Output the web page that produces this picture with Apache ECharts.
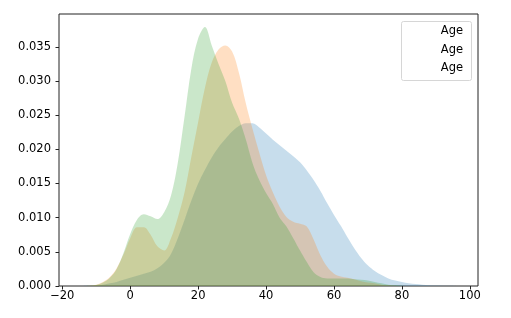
<!DOCTYPE html>
<html>
<head>
<meta charset="utf-8">
<script src="https://cdn.jsdelivr.net/npm/echarts@6/dist/echarts.min.js"></script>
<style>html,body{margin:0;padding:0;background:#fff;}#c{width:511px;height:318px;}</style>
</head>
<body>
<div id="c"></div>
<script>
// Age grid (x positions of KDE samples)
const ageGrid = [-14,-12,-10,-8,-6,-4,-2,0,2,4,6,8,10,12,14,16,18,20,22,24,26,28,30,32,34,36,38,40,42,44,46,48,50,52,54,56,58,60,62,64,66,68,70,72,74,76,78,80,82,84,86,88,90,92,94,96,98,100];
// Density series (blue, orange, green)
const densBlue = [0,0.00002,0.00008,0.0002,0.0004,0.0006,0.0009,0.0012,0.0015,0.0018,0.0021,0.0026,0.0034,0.0047,0.0070,0.0097,0.0125,0.0150,0.0170,0.0188,0.0203,0.0215,0.0226,0.0234,0.0238,0.0238,0.0232,0.0223,0.0214,0.0206,0.0198,0.0190,0.0181,0.0169,0.0155,0.0139,0.0121,0.0104,0.0088,0.0071,0.0055,0.0041,0.0030,0.0022,0.0016,0.0011,0.0008,0.0006,0.0004,0.0003,0.0002,0.00012,0.00007,0.00004,0.00002,0.00001,0,0];
const densOrange = [0,0.00005,0.0002,0.0006,0.0013,0.0026,0.0046,0.0070,0.0086,0.0086,0.0075,0.0058,0.0052,0.0070,0.0100,0.0137,0.0189,0.0240,0.0290,0.0327,0.0346,0.0352,0.0343,0.0312,0.0268,0.0230,0.0195,0.0162,0.0137,0.0116,0.0101,0.0094,0.0091,0.0087,0.0068,0.0045,0.0028,0.0018,0.0014,0.0012,0.0010,0.0007,0.0005,0.0004,0.0002,0.0001,0.00004,0,0,0,0,0,0,0,0,0,0,0];
const densGreen = [0,0.00003,0.00015,0.0005,0.0012,0.0025,0.0048,0.0076,0.0097,0.0105,0.0102,0.0098,0.0108,0.0132,0.0180,0.0248,0.0318,0.0362,0.0379,0.0352,0.0325,0.0300,0.0268,0.0245,0.0215,0.0180,0.0155,0.0136,0.0120,0.0100,0.0087,0.0070,0.0052,0.0035,0.0020,0.0013,0.0011,0.0011,0.0011,0.0011,0.0010,0.0009,0.0008,0.0006,0.0004,0.0002,0.0001,0.00004,0,0,0,0,0,0,0,0,0,0];
const seriesNames = ['Age','Age','Age'];
const seriesColors = ['#1f77b4','#ff7f0e','#2ca02c'];
const xTicks = [-20,0,20,40,60,80,100];
const yTicks = [0,0.005,0.010,0.015,0.020,0.025,0.030,0.035];

const allDens = [densBlue, densOrange, densGreen];
const chart = echarts.init(document.getElementById('c'), null, {renderer:'canvas'});
const font = 'DejaVu Sans';
const fs = 11.5;
const series = allDens.map((d, i) => ({
  type: 'line',
  name: seriesNames[i] + i,
  data: ageGrid.map((x, k) => [x, d[k]]),
  smooth: 0.35,
  showSymbol: false,
  lineStyle: { width: 0, opacity: 0 },
  areaStyle: { color: seriesColors[i], opacity: 0.25 },
  silent: true,
  animation: false
}));

const legendItems = seriesNames.map((n, i) => ({
  type: 'text', right: 48, top: 25 + i * 18.7,
  style: { text: n, font: fs + 'px "DejaVu Sans"', fill: '#000', textAlign: 'right' }
}));

chart.setOption({
  animation: false,
  grid: { left: 59, top: 14, right: 33, bottom: 32, show: true, borderColor: '#222', borderWidth: 1, backgroundColor: 'transparent' },
  xAxis: {
    type: 'value', min: -20.97, max: 102.4,
    axisLine: { show: false, onZero: false },
    splitLine: { show: false },
    axisTick: { show: true, length: 3.5, lineStyle: { color: '#222' }, customValues: xTicks },
    axisLabel: { customValues: xTicks, color: '#000', fontFamily: font, fontSize: fs, margin: 4,
      formatter: v => (v < 0 ? '\u2212' + Math.abs(v) : String(v)) }
  },
  yAxis: {
    type: 'value', min: 0, max: 0.0398,
    axisLine: { show: false, onZero: false },
    splitLine: { show: false },
    axisTick: { show: true, length: 3.5, lineStyle: { color: '#222' }, customValues: yTicks },
    axisLabel: { customValues: yTicks, color: '#000', fontFamily: font, fontSize: fs, margin: 8,
      formatter: v => v.toFixed(3) }
  },
  graphic: [
    { type: 'rect', right: 39, top: 21, shape: { width: 70, height: 59, r: 2 },
      style: { fill: 'rgba(255,255,255,0.8)', stroke: '#d6d6d6', lineWidth: 1 }, z: 100 },
    ...legendItems.map(o => Object.assign(o, { z: 101 }))
  ],
  series: series
});
</script>
</body>
</html>
